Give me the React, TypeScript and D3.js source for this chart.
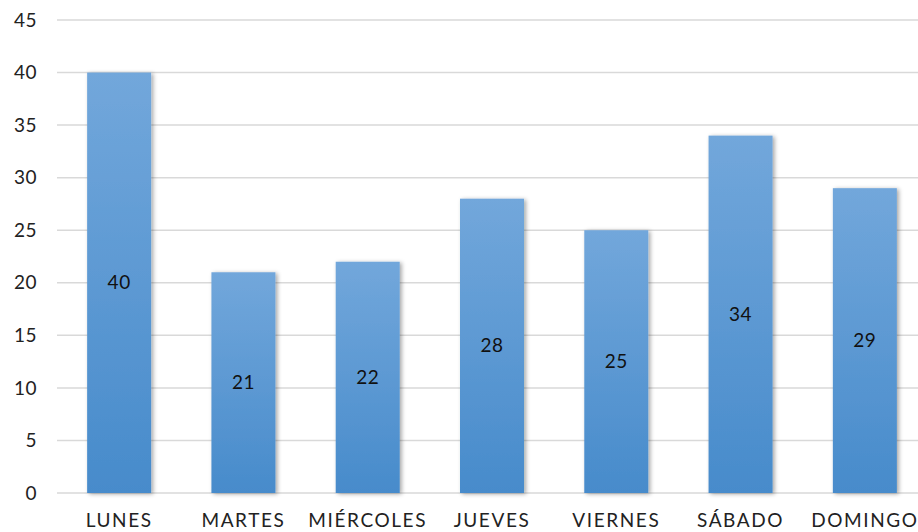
import { useEffect, useRef } from "react"
import * as d3 from "d3"

const days = ["LUNES", "MARTES", "MIÉRCOLES", "JUEVES", "VIERNES", "SÁBADO", "DOMINGO"]
const counts = [40, 21, 22, 28, 25, 34, 29]
const yTicks = [0, 5, 10, 15, 20, 25, 30, 35, 40, 45]

export default function App() {
	const ref = useRef<SVGSVGElement>(null)
	const width = 918
	const height = 532
	const margin = { top: 20, right: -9, bottom: 39, left: 57 }

	useEffect(() => {
		const svg = d3.select(ref.current)
		svg.selectAll("*").remove()

		const innerW = width - margin.left - margin.right
		const innerH = height - margin.top - margin.bottom

		const defs = svg.append("defs")
		const grad = defs
			.append("linearGradient")
			.attr("id", "barGrad")
			.attr("x1", 0)
			.attr("y1", 0)
			.attr("x2", 0)
			.attr("y2", 1)
		grad.append("stop").attr("offset", "0%").attr("stop-color", "#72a7db")
		grad.append("stop").attr("offset", "100%").attr("stop-color", "#478bcb")

		const shadow = defs
			.append("filter")
			.attr("id", "barShadow")
			.attr("x", "-20%")
			.attr("y", "-10%")
			.attr("width", "140%")
			.attr("height", "120%")
		shadow
			.append("feDropShadow")
			.attr("dx", 2)
			.attr("dy", 1)
			.attr("stdDeviation", 2)
			.attr("flood-color", "#000")
			.attr("flood-opacity", 0.35)

		const g = svg
			.append("g")
			.attr("transform", `translate(${margin.left},${margin.top})`)

		const x = d3.scaleBand().domain(days).range([0, innerW]).paddingInner(0.485).paddingOuter(0.2425)
		const y = d3.scaleLinear().domain([0, 45]).range([innerH, 0])

		// gridlines
		g.append("g")
			.selectAll("line")
			.data(yTicks)
			.enter()
			.append("line")
			.attr("x1", 0)
			.attr("x2", innerW)
			.attr("y1", (d) => y(d))
			.attr("y2", (d) => y(d))
			.attr("stroke", "#d9d9d9")
			.attr("stroke-width", 1.5)

		// y tick labels
		g.append("g")
			.selectAll("text")
			.data(yTicks)
			.enter()
			.append("text")
			.attr("x", -20)
			.attr("y", (d) => y(d))
			.attr("dy", "0.35em")
			.attr("text-anchor", "end")
			.attr("font-family", "Lato, 'DejaVu Sans', sans-serif")
			.attr("font-size", 19)
			.attr("letter-spacing", 0.5)
			.attr("fill", "#222")
			.text((d) => d)

		// bars
		g.append("g")
			.selectAll("rect")
			.data(counts)
			.enter()
			.append("rect")
			.attr("x", (d, i) => x(days[i]) as number)
			.attr("y", (d) => y(d))
			.attr("width", x.bandwidth())
			.attr("height", (d) => innerH - y(d))
			.attr("fill", "url(#barGrad)")
			.attr("filter", "url(#barShadow)")

		// value labels
		g.append("g")
			.selectAll("text")
			.data(counts)
			.enter()
			.append("text")
			.attr("x", (d, i) => (x(days[i]) as number) + x.bandwidth() / 2)
			.attr("y", (d) => y(d / 2))
			.attr("dy", "0.35em")
			.attr("text-anchor", "middle")
			.attr("font-family", "Lato, 'DejaVu Sans', sans-serif")
			.attr("font-size", 19)
			.attr("letter-spacing", 0.5)
			.attr("fill", "#111")
			.text((d) => d)

		// category labels
		g.append("g")
			.selectAll("text")
			.data(days)
			.enter()
			.append("text")
			.attr("x", (d) => (x(d) as number) + x.bandwidth() / 2)
			.attr("y", innerH + 34)
			.attr("text-anchor", "middle")
			.attr("font-family", "Lato, 'DejaVu Sans', sans-serif")
			.attr("font-size", 19)
			.attr("letter-spacing", 1.6)
			.attr("fill", "#222")
			.text((d) => d)
	}, [])

	return (
		<div style={{ position: "absolute", left: 0, top: 0 }}>
			<svg ref={ref} width={width} height={height} style={{ display: "block", background: "#fff" }}></svg>
		</div>
	)
}
